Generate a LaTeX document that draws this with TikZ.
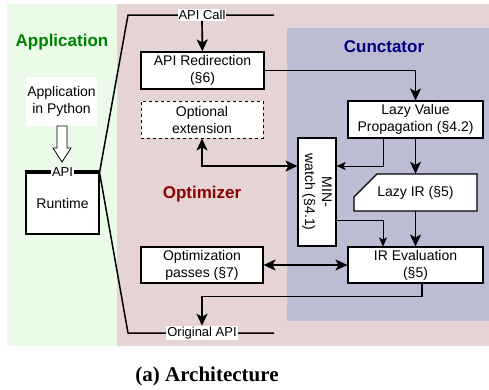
\documentclass[tikz,border=0pt]{standalone}
\usepackage{fontspec}
\setmainfont{Liberation Sans}
\newfontfamily\capfont{Liberation Serif}
\usetikzlibrary{arrows.meta}

\definecolor{appgreen}{RGB}{234,252,231}
\definecolor{optpink}{RGB}{230,212,213}
\definecolor{cunblue}{RGB}{188,188,210}
\definecolor{apptext}{RGB}{0,128,0}
\definecolor{opttext}{RGB}{140,0,0}
\definecolor{cuntext}{RGB}{0,0,128}

\begin{document}
\begin{tikzpicture}[x=1pt, y=-1pt,
	box/.style={draw, fill=white, line width=1.1pt, align=center, inner sep=0pt, font=\fontsize{14}{17}\selectfont},
	lbl/.style={fill=white, inner sep=1pt, font=\fontsize{13}{15}\selectfont},
	title/.style={font=\fontsize{17}{20}\selectfont\bfseries},
	thickarr/.style={line width=1.7pt, -{Stealth[length=12pt, width=11pt, inset=3pt]}},
	bothway/.style={line width=1.7pt, {Stealth[length=12pt, width=11pt, inset=3pt]}-{Stealth[length=12pt, width=11pt, inset=3pt]}},
	thinarr/.style={line width=0.8pt, -{Stealth[length=9pt, width=8pt, inset=2pt]}}]
	\useasboundingbox (0,0) rectangle (489,389);
	
	%regions
	\fill[appgreen] (7,4) rectangle (117,346);
	\fill[optpink] (117,4) rectangle (489,346);
	\fill[cunblue] (287,28) rectangle (489,321);
	
	\node[title, text=apptext] (apptitle) at (62,42) {Application};
	\node[title, text=opttext] (opttitle) at (202,194) {Optimizer};
	\node[title, text=cuntext] (cuntitle) at (384,47) {Cunctator};
	
	%application side
	\node[fill=white, align=center, minimum width=71pt, minimum height=49pt, inner sep=0pt, font=\fontsize{14}{17}\selectfont] (python) at (61.5,101.5) {Application\\in Python};
	\draw[fill=white, line width=0.8pt] (57,126) -- (57,148) -- (53,148) -- (62,162) -- (71,148) -- (67,148) -- (67,126) -- cycle;
	\node[box, minimum width=73pt, minimum height=61pt] (runtime) at (62.5,203.5) {Runtime};
	\draw[line width=4pt] (runtime.north west) -- (runtime.north east);
	\node[lbl] (api) at (runtime.north) {API};
	
	%interception path
	\coordinate (callend) at (274,15);
	\coordinate (callcorner) at (128,15);
	\coordinate (origcorner) at (128,333);
	\coordinate (origend) at (274,333);
	\draw[line width=1.5pt, line join=round] (callend) -- (callcorner) -- (runtime.north east) -- (origcorner) -- (origend);
	\node[lbl] (apicall) at (202,15) {API Call};
	\node[lbl] (origapi) at (202,333) {Original API};
	
	%boxes
	\node[box, minimum width=123pt, minimum height=37pt] (redir) at (202.5,70.5) {API Redirection\\(§6)};
	\node[box, dashed, line width=0.9pt, minimum width=122pt, minimum height=37pt] (optext) at (202,119.5) {Optional\\extension};
	\node[box, minimum width=122pt, minimum height=36pt] (optpass) at (202,265) {Optimization\\passes (§7)};
	\node[box, minimum width=135pt, minimum height=37pt] (lvp) at (415.5,119.5) {Lazy Value\\Propagation (§4.2)};
	\draw[fill=white, line width=1.1pt] (354,197) -- (377,174) -- (477,174) -- (477,211) -- (354,211) -- cycle;
	\node[font=\fontsize{14}{17}\selectfont, minimum width=123pt, minimum height=37pt] (lazyir) at (415.5,192.5) {Lazy IR (§5)};
	\node[box, minimum width=135pt, minimum height=36pt] (ireval) at (415.5,265) {IR Evaluation\\(§5)};
	\node[box, minimum width=38pt, minimum height=108pt] (minwatch) at (317,192) {};
	\node[rotate=-90, align=center, font=\fontsize{14}{17}\selectfont] (minwatchtext) at (minwatch.center) {MIN-\\watch (§4.1)};
	
	%connectors
	\draw[thickarr] (apicall) -- (redir);
	\draw[thickarr] (redir.east) -| (lvp.north);
	\draw[thickarr] (lvp) -- (lazyir);
	\draw[thickarr] (lazyir) -- (ireval);
	\draw[thinarr] ([xshift=-32.5pt]lvp.south) |- ([yshift=26pt]minwatch.east);
	\draw[thinarr] ([yshift=-28pt]minwatch.east) -| ([xshift=-32.5pt]ireval.north);
	\draw[bothway] (optext.south) |- ([yshift=26pt]minwatch.west);
	\draw[bothway] (optpass) -- (ireval);
	\draw[thickarr] ([xshift=6.5pt]ireval.south) -- ++(0,13) -| (origapi.north);
	
	\node[font=\capfont\fontsize{21}{24}\selectfont\bfseries] (caption) at (207,376) {(a) Architecture};
\end{tikzpicture}
\end{document}
